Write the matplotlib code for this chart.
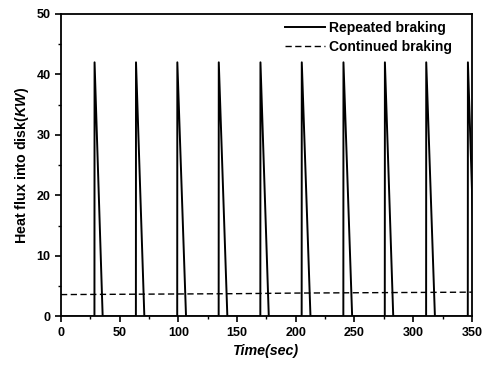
import matplotlib
matplotlib.use("Agg")
import matplotlib.pyplot as plt
from matplotlib.ticker import MultipleLocator

plt.rcParams['font.family'] = ['Liberation Sans', 'DejaVu Sans']
plt.rcParams['mathtext.fontset'] = 'custom'
plt.rcParams['mathtext.it'] = 'Liberation Sans:bold:italic'
plt.rcParams['mathtext.rm'] = 'Liberation Sans:bold'

# Repeated braking: time (s) and heat flux (KW)
rep_t = [0, 28.5, 28.6, 35.5, 63.8, 63.9, 71.0, 99.0, 99.1, 106.5,
         134.3, 134.4, 141.7, 169.8, 169.9, 177.0, 205.0, 205.1, 212.5,
         240.5, 240.6, 248.0, 275.8, 275.9, 283.0, 311.0, 311.1, 318.5,
         346.5, 346.6, 353.5]
rep_q = [0, 0, 42, 0, 0, 42, 0, 0, 42, 0,
         0, 42, 0, 0, 42, 0, 0, 42, 0,
         0, 42, 0, 0, 42, 0, 0, 42, 0,
         0, 42, 0]

# Continued braking
con_t = [0, 50, 100, 150, 200, 250, 300, 350]
con_q = [3.6, 3.65, 3.7, 3.75, 3.85, 3.9, 3.95, 4.0]

xticks = [0, 50, 100, 150, 200, 250, 300, 350]
yticks = [0, 10, 20, 30, 40, 50]

fig = plt.figure(figsize=(4.84, 3.67), dpi=100)
ax = fig.add_axes([0.126, 0.138, 0.849, 0.824])

ax.plot(rep_t, rep_q, color='black', lw=1.4, label='Repeated braking')
ax.plot(con_t, con_q, color='black', lw=1.0, ls=(0, (4.5, 2.5)), label='Continued braking')

ax.set_xlim(0, 350)
ax.set_ylim(0, 50)
ax.set_xticks(xticks)
ax.set_yticks(yticks)
ax.xaxis.set_minor_locator(MultipleLocator(25))
ax.yaxis.set_minor_locator(MultipleLocator(5))
ax.tick_params(which='major', direction='out', length=4, width=1.2, labelsize=9)
ax.tick_params(which='minor', direction='out', length=2, width=1.0)
for lbl in ax.get_xticklabels() + ax.get_yticklabels():
    lbl.set_fontweight('bold')
for s in ax.spines.values():
    s.set_linewidth(1.3)

ax.set_xlabel('Time(sec)', fontsize=10.3, fontweight='bold', fontstyle='italic')
ax.set_ylabel('Heat flux into disk($\\mathit{KW}$)', fontsize=10.3, fontweight='bold')

leg = ax.legend(loc='upper right', frameon=False, fontsize=10, handlelength=2.9,
                handletextpad=0.25, labelspacing=0.35, borderaxespad=0.0,
                borderpad=0.5, bbox_to_anchor=(0.968, 1.0))
for t in leg.get_texts():
    t.set_fontweight('bold')

fig.savefig('out.png', dpi=100)
